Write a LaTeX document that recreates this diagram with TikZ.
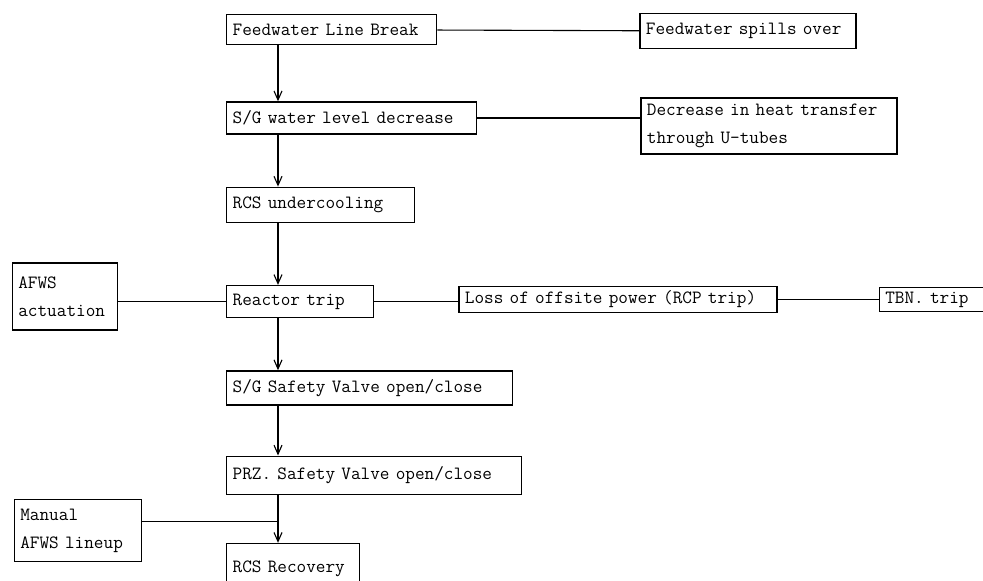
\documentclass[tikz,border=0pt]{standalone}
\usepackage{fontspec}
\usetikzlibrary{positioning,arrows.meta}

\begin{document}
\begin{tikzpicture}[
        x=1pt, y=1pt,
        every node/.style={align=left},
        event/.style={rectangle, draw, line width=1.3pt, inner xsep=6pt, inner ysep=2pt,
            font=\ttfamily\fontsize{18.7}{28}\selectfont},
        link/.style={line width=1.1pt},
        flow/.style={line width=1.1pt, -{Straight Barb[length=9pt,width=8pt]}}
    ]
    \useasboundingbox (0,0) rectangle (983,-581);

    % Main sequence (left column)
    \node[event, anchor=north west, text width=198pt, minimum height=30pt] (flb) at (226,-14) {Feedwater Line Break};
    \node[event, below=56pt of flb.south west, anchor=north west, text width=238pt, minimum height=32pt] (sgwl) {S/G water level decrease};
    \node[event, below=52pt of sgwl.south west, anchor=north west, text width=176pt, minimum height=35pt] (rcsu) {RCS undercooling};
    \node[event, below=62pt of rcsu.south west, anchor=north west, text width=135pt, minimum height=32pt] (rtrip) {Reactor trip};
    \node[event, below=52pt of rtrip.south west, anchor=north west, text width=274pt, minimum height=34pt] (sgsv) {S/G Safety Valve open/close};
    \node[event, below=50pt of sgsv.south west, anchor=north west, text width=283pt, minimum height=38pt] (przsv) {PRZ. Safety Valve open/close};
    \node[event, below=48pt of przsv.south west, anchor=north west, text width=121pt, minimum height=50pt] (rcsr) {RCS Recovery};

    % Side events
    \node[event, right=202pt of flb, yshift=-1.5pt, text width=204pt, minimum height=35pt] (fso) {Feedwater spills over};
    \node[event, right=163pt of sgwl, yshift=-8pt, text width=244pt, minimum height=56pt] (dht) {Decrease in heat transfer\\through U-tubes};
    \node[event, left=108pt of rtrip, yshift=5pt, text width=93pt, minimum height=67pt] (afws) {AFWS\\actuation};
    \node[event, right=84pt of rtrip, yshift=2pt, text width=306pt, minimum height=26pt] (loss) {Loss of offsite power (RCP trip)};
    \node[event, right=101pt of loss, text width=124pt, minimum height=24pt] (tbn) {TBN. trip};
    \node[event, below left=4pt and 84pt of przsv.south west, anchor=north east, text width=115pt, minimum height=62pt] (manual) {Manual\\AFWS lineup};

    % Junction above RCS Recovery
    \coordinate (jn) at ([xshift=52pt, yshift=-27pt]przsv.south west);

    % Sequence arrows
    \draw[flow] ([xshift=52pt]flb.south west) -- ([xshift=52pt]sgwl.north west);
    \draw[flow] ([xshift=52pt]sgwl.south west) -- ([xshift=52pt]rcsu.north west);
    \draw[flow] ([xshift=52pt]rcsu.south west) -- ([xshift=52pt]rtrip.north west);
    \draw[flow] ([xshift=52pt]rtrip.south west) -- ([xshift=52pt]sgsv.north west);
    \draw[flow] ([xshift=52pt]sgsv.south west) -- ([xshift=52pt]przsv.north west);
    \draw[flow] ([xshift=52pt]przsv.south west) -- ([xshift=52pt]rcsr.north west);

    % Side links
    \draw[link] (flb) -- (fso);
    \draw[link] (sgwl.east) -- (sgwl.east -| dht.west);
    \draw[link] (rtrip.west) -- (rtrip.west -| afws.east);
    \draw[link] (rtrip.east) -- (rtrip.east -| loss.west);
    \draw[link] (loss.east) -- (loss.east -| tbn.west);
    \draw[link] (manual.east |- jn) -- (jn);

\end{tikzpicture}
\end{document}
